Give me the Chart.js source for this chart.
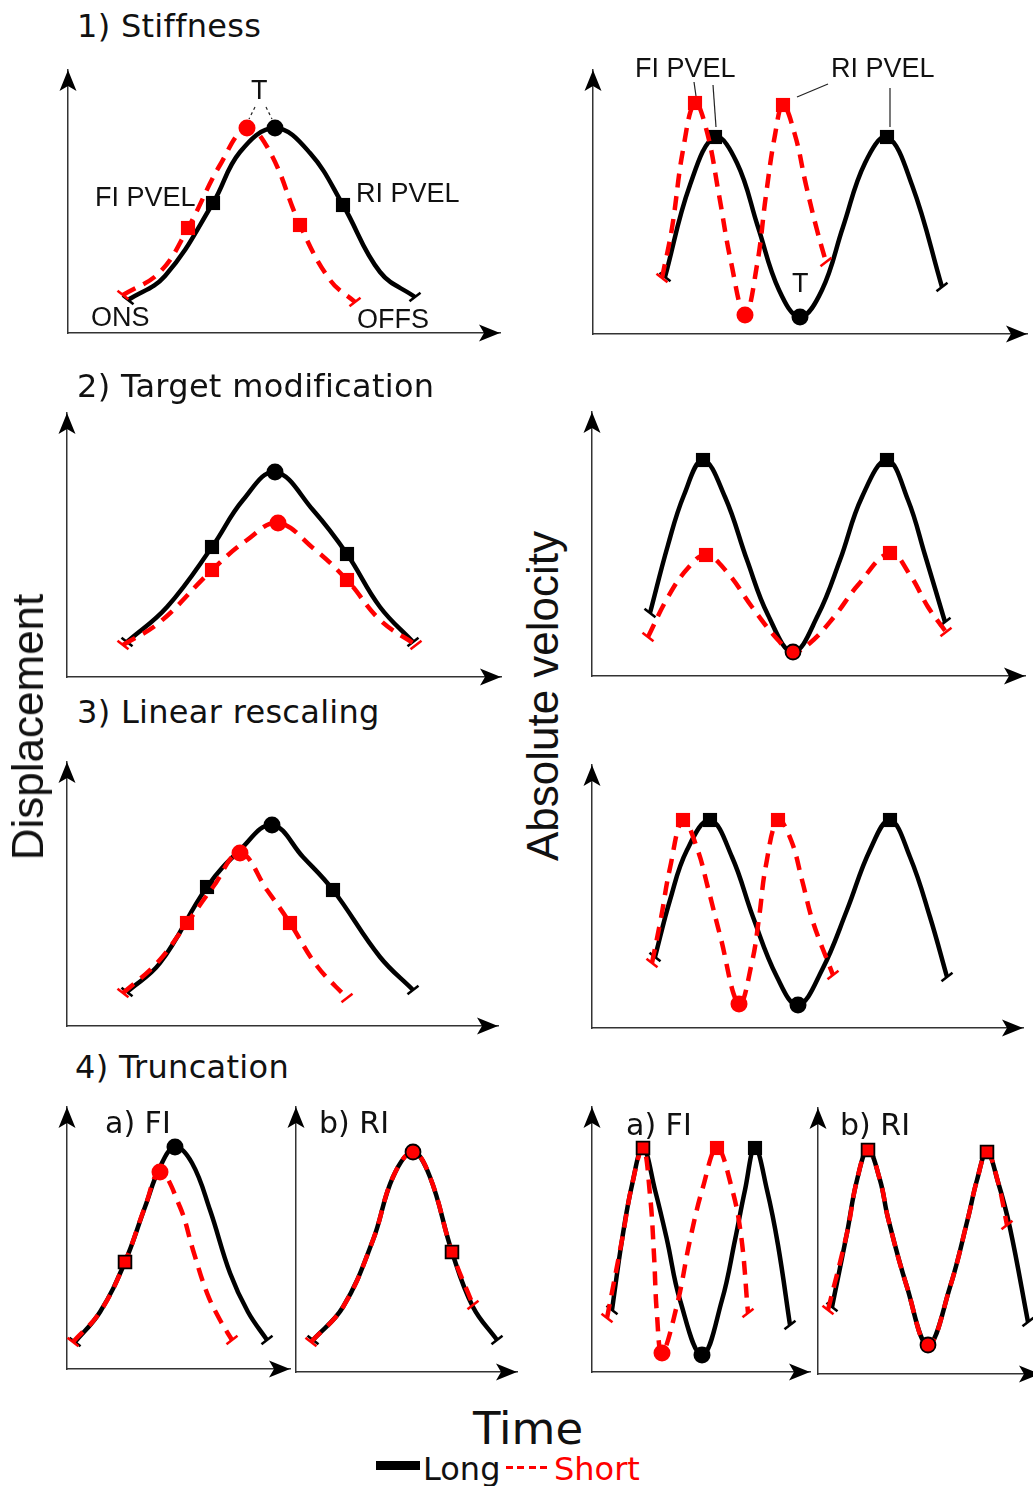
<!DOCTYPE html>
<html>
<head>
<meta charset="utf-8">
<title>Displacement and velocity schematics</title>
<script src="https://cdn.jsdelivr.net/npm/chart.js@4.4.1/dist/chart.umd.min.js"></script>
<style>
  html, body { margin: 0; padding: 0; background: #fff; }
  body { width: 1033px; height: 1486px; position: relative; overflow: hidden; }
  canvas { position: absolute; }
  .lbl { position: absolute; white-space: nowrap; line-height: 1; color: #111; z-index: 2; }
  .title { font-family: 'DejaVu Sans', sans-serif; font-size: 32px; letter-spacing: 0.3px; }
  .sub { font-family: 'DejaVu Sans', sans-serif; font-size: 30px; }
  .ann { font-family: 'Liberation Sans', Arial, sans-serif; font-size: 27px; }
  .ylab { font-family: 'Liberation Sans', Arial, sans-serif; font-size: 44px; transform: translate(-50%, -50%) rotate(-90deg); }
  .legend { font-family: 'DejaVu Sans', sans-serif; font-size: 32px; }
</style>
</head>
<body>

<div class="lbl title" style="left:77px; top:10px;">1) Stiffness</div>
<div class="lbl title" style="left:77px; top:370px;">2) Target modification</div>
<div class="lbl title" style="left:77px; top:696px;">3) Linear rescaling</div>
<div class="lbl title" style="left:75px; top:1051px;">4) Truncation</div>

<div class="lbl sub" style="left:105px; top:1108px;">a) FI</div>
<div class="lbl sub" style="left:319px; top:1108px;">b) RI</div>
<div class="lbl sub" style="left:626px; top:1110px;">a) FI</div>
<div class="lbl sub" style="left:840px; top:1110px;">b) RI</div>

<div class="lbl ann" style="left:251px; top:77px;">T</div>
<div class="lbl ann" style="left:95px; top:184px;">FI PVEL</div>
<div class="lbl ann" style="left:356px; top:180px;">RI PVEL</div>
<div class="lbl ann" style="left:91px; top:304px;">ONS</div>
<div class="lbl ann" style="left:357px; top:306px;">OFFS</div>
<div class="lbl ann" style="left:635px; top:55px;">FI PVEL</div>
<div class="lbl ann" style="left:831px; top:55px;">RI PVEL</div>
<div class="lbl ann" style="left:792px; top:270px;">T</div>

<div class="lbl ylab" style="left:28px; top:727px;">Displacement</div>
<div class="lbl ylab" style="left:543px; top:696px;">Absolute velocity</div>

<div class="lbl" style="left:473px; top:1406px; font-family:'DejaVu Sans',sans-serif; font-size:45px;">Time</div>
<div class="lbl" style="left:376px; top:1461px; width:44px; height:9px; background:#000;"></div>
<div class="lbl legend" style="left:423px; top:1453px;">Long</div>
<div class="lbl" style="left:506px; top:1466px; width:43px; height:3px; background:repeating-linear-gradient(90deg,#f00 0 7px,transparent 7px 11.5px);"></div>
<div class="lbl legend" style="left:554px; top:1453px; color:#f00;">Short</div>

<script>
// values: time / value offsets from each panel's origin

// 1) Stiffness
const stiffDispLongT = [60, 97, 145, 172, 207, 242, 275, 312, 347];
const stiffDispLongV = [33, 57, 130, 181, 205, 180, 128, 61, 36];
const stiffDispShortT = [55, 92, 120, 152, 179, 202, 232, 262, 287];
const stiffDispShortV = [38, 61, 105, 168, 205, 181, 108, 53, 31];
const stiffVelLongT = [72, 97, 122, 144, 165, 186, 207, 229, 250, 272, 294, 319, 349];
const stiffVelLongV = [57, 149, 197, 171, 107, 44, 17, 44, 107, 171, 197, 149, 47];
const stiffVelShortT = [69, 79, 90, 102, 114, 126, 138, 152, 164, 173, 182, 190, 202, 213, 224, 233];
const stiffVelShortV = [56, 106, 184, 231, 202, 139, 72, 19, 69, 139, 199, 229, 199, 149, 104, 72];

// 2) Target modification
const targetDispLongT = [60, 100, 145, 176, 208, 246, 280, 313, 346];
const targetDispLongV = [35, 70, 130, 177, 205, 167, 123, 70, 35];
const targetDispShortT = [56, 93, 145, 180, 211, 246, 280, 313, 349];
const targetDispShortV = [32, 55, 107, 137, 154, 129, 97, 57, 32];
const targetVelLongT = [58, 76, 92, 111, 133, 155, 176, 201, 226, 248, 270, 295, 316, 333, 353];
const targetVelLongV = [63, 131, 181, 216, 179, 116, 61, 24, 61, 116, 179, 216, 176, 121, 54];
const targetVelShortT = [56, 76, 96, 114, 135, 160, 186, 201, 218, 242, 266, 298, 318, 336, 354];
const targetVelShortV = [39, 79, 108, 121, 104, 69, 36, 24, 33, 59, 91, 123, 101, 69, 44];

// 3) Linear rescaling
const linDispLongT = [60, 93, 140, 173, 205, 236, 266, 313, 346];
const linDispLongV = [34, 63, 139, 176, 201, 169, 136, 69, 36];
const linDispShortT = [56, 90, 120, 146, 173, 200, 223, 250, 280];
const linDispShortV = [33, 63, 103, 139, 173, 136, 103, 60, 28];
const linVelLongT = [63, 78, 95, 118, 140, 161, 185, 206, 230, 255, 278, 298, 318, 338, 355];
const linVelLongV = [71, 128, 178, 208, 171, 111, 51, 23, 58, 118, 178, 208, 171, 111, 51];
const linVelShortT = [60, 69, 78, 91, 105, 116, 128, 147, 160, 167, 174, 186, 199, 210, 221, 241];
const linVelShortV = [65, 110, 160, 208, 180, 140, 93, 24, 66, 110, 163, 208, 188, 148, 106, 53];

// 4) Truncation
const truncFiDispLongT = [8, 33, 58, 78, 93, 108, 125, 143, 163, 181, 200];
const truncFiDispLongV = [27, 57, 107, 162, 202, 222, 206, 159, 96, 57, 29];
const truncFiDispShortT = [6, 33, 58, 78, 93, 113, 126, 140, 153, 165];
const truncFiDispShortV = [27, 57, 107, 162, 197, 162, 119, 76, 49, 29];
const truncRiDispLongT = [17, 47, 77, 97, 117, 134, 156, 177, 201];
const truncRiDispLongV = [32, 65, 132, 195, 220, 195, 120, 65, 32];
const truncRiDispShortT = [15, 47, 77, 97, 117, 134, 156, 177];
const truncRiDispShortV = [30, 65, 132, 195, 220, 195, 120, 67];
const truncFiVelLongT = [20, 30, 40, 51, 63, 75, 88, 110, 130, 143, 153, 163, 175, 186, 198];
const truncFiVelLongV = [62, 132, 187, 224, 182, 132, 72, 17, 72, 132, 182, 224, 182, 127, 47];
const truncFiVelShortT = [15, 30, 40, 51, 58, 62, 65, 70, 85, 98, 111, 125, 139, 149, 156];
const truncFiVelShortV = [54, 132, 187, 224, 177, 117, 57, 19, 67, 132, 185, 224, 187, 137, 59];
const truncRiVelLongT = [14, 29, 39, 50, 62, 70, 89, 110, 132, 150, 159, 169, 180, 192, 210];
const truncRiVelLongV = [67, 141, 194, 224, 194, 156, 87, 29, 87, 156, 194, 222, 192, 146, 52];
const truncRiVelShortT = [10, 29, 39, 50, 62, 70, 89, 110, 132, 150, 159, 169, 180, 189];
const truncRiVelShortV = [64, 141, 194, 224, 194, 156, 87, 29, 87, 156, 194, 222, 192, 149];

// leader lines from the labels in panel 1
const tLeaderLeftT = [187, 181], tLeaderLeftV = [226, 214];
const tLeaderRightT = [198, 204], tLeaderRightV = [226, 214];
const fiShortLeaderT = [101, 103], fiShortLeaderV = [252, 238];
const fiLongLeaderT = [120, 123], fiLongLeaderV = [249, 207];
const riShortLeaderT = [235, 204], riShortLeaderV = [250, 237];
const riLongLeaderT = [297, 297], riLongLeaderV = [246, 207];

const BLACK = '#000';
const RED = '#ff0000';
const PAD = 16;

// box: [y-axis x, arrow top, arrow right, x-axis y] in page pixels
const panels = [
  { box: [68, 70, 500, 333],
    long: [stiffDispLongT, stiffDispLongV], longMarks: { 2: 'sq', 4: 'dot', 6: 'sq' },
    short: [stiffDispShortT, stiffDispShortV], shortMarks: { 2: 'sq', 4: 'dot', 6: 'sq' },
    notes: [[tLeaderLeftT, tLeaderLeftV, [3, 3]], [tLeaderRightT, tLeaderRightV, [3, 3]]] },
  { box: [593, 70, 1027, 334],
    long: [stiffVelLongT, stiffVelLongV], longMarks: { 2: 'sq', 6: 'dot', 10: 'sq' },
    short: [stiffVelShortT, stiffVelShortV], shortMarks: { 3: 'sq', 7: 'dot', 11: 'sq' },
    notes: [[fiShortLeaderT, fiShortLeaderV], [fiLongLeaderT, fiLongLeaderV],
            [riShortLeaderT, riShortLeaderV], [riLongLeaderT, riLongLeaderV]] },
  { box: [67, 413, 501, 677],
    long: [targetDispLongT, targetDispLongV], longMarks: { 2: 'sq', 4: 'dot', 6: 'sq' },
    short: [targetDispShortT, targetDispShortV], shortMarks: { 2: 'sq', 4: 'dot', 6: 'sq' } },
  { box: [592, 412, 1025, 676],
    long: [targetVelLongT, targetVelLongV], longMarks: { 3: 'sq', 11: 'sq' },
    short: [targetVelShortT, targetVelShortV], shortMarks: { 3: 'sq', 7: 'dotO', 11: 'sq' } },
  { box: [67, 762, 498, 1026],
    long: [linDispLongT, linDispLongV], longMarks: { 2: 'sq', 4: 'dot', 6: 'sq' },
    short: [linDispShortT, linDispShortV], shortMarks: { 2: 'sq', 4: 'dot', 6: 'sq' } },
  { box: [592, 765, 1023, 1028],
    long: [linVelLongT, linVelLongV], longMarks: { 3: 'sq', 7: 'dot', 11: 'sq' },
    short: [linVelShortT, linVelShortV], shortMarks: { 3: 'sq', 7: 'dot', 11: 'sq' } },
  { box: [67, 1107, 290, 1369],
    long: [truncFiDispLongT, truncFiDispLongV], longMarks: { 5: 'dot' },
    short: [truncFiDispShortT, truncFiDispShortV], shortMarks: { 2: 'sqO', 4: 'dot' } },
  { box: [296, 1107, 517, 1372],
    long: [truncRiDispLongT, truncRiDispLongV], longMarks: {},
    short: [truncRiDispShortT, truncRiDispShortV], shortMarks: { 4: 'dotO', 6: 'sqO' } },
  { box: [592, 1107, 810, 1372],
    long: [truncFiVelLongT, truncFiVelLongV], longMarks: { 7: 'dot', 11: 'sq' },
    short: [truncFiVelShortT, truncFiVelShortV], shortMarks: { 3: 'sqO', 7: 'dot', 11: 'sq' } },
  { box: [818, 1108, 1040, 1374],
    long: [truncRiVelLongT, truncRiVelLongV], longMarks: {},
    short: [truncRiVelShortT, truncRiVelShortV], shortMarks: { 3: 'sqO', 7: 'dotO', 11: 'sqO' } },
];

function toPoints(t, v) {
  return t.map((x, i) => ({ x: x, y: v[i] }));
}

// per-point marker styling: end ticks, squares (PVEL) and circles (target)
function markerProps(n, marks, color) {
  const p = { style: [], radius: [], rotation: [], fill: [], edge: [], width: [] };
  for (let i = 0; i < n; i++) {
    const m = marks[i];
    if (i === 0 || i === n - 1) {
      p.style.push('line'); p.radius.push(7); p.rotation.push(i === 0 ? 38 : -38);
      p.fill.push(color); p.edge.push(color); p.width.push(2.5);
    } else if (m === 'sq' || m === 'sqO') {
      p.style.push('rect'); p.radius.push(m === 'sq' ? 10 : 9); p.rotation.push(0);
      p.fill.push(color); p.edge.push(m === 'sq' ? color : BLACK); p.width.push(m === 'sq' ? 0 : 1.8);
    } else if (m === 'dot' || m === 'dotO') {
      p.style.push('circle'); p.radius.push(m === 'dot' ? 8.5 : 7.5); p.rotation.push(0);
      p.fill.push(color); p.edge.push(m === 'dot' ? color : BLACK); p.width.push(m === 'dot' ? 0 : 1.8);
    } else {
      p.style.push('circle'); p.radius.push(0); p.rotation.push(0);
      p.fill.push(color); p.edge.push(color); p.width.push(0);
    }
  }
  return p;
}

function curveDataset(series, marks, color, dashed, order) {
  const pts = toPoints(series[0], series[1]);
  const m = markerProps(pts.length, marks, color);
  return {
    data: pts,
    borderColor: color,
    borderWidth: 4.5,
    borderDash: dashed ? [14, 9] : [],
    tension: 0.4,
    pointStyle: m.style,
    pointRadius: m.radius,
    pointRotation: m.rotation,
    pointBackgroundColor: m.fill,
    pointBorderColor: m.edge,
    pointBorderWidth: m.width,
    clip: false,
    order: order,
  };
}

function arrowHead(ctx, x, y, dx, dy) {
  const L = 21, W = 8.5, N = 5;
  const px = -dy, py = dx;
  ctx.beginPath();
  ctx.moveTo(x, y);
  ctx.lineTo(x - dx * L + px * W, y - dy * L + py * W);
  ctx.lineTo(x - dx * (L - N), y - dy * (L - N));
  ctx.lineTo(x - dx * L - px * W, y - dy * L - py * W);
  ctx.closePath();
  ctx.fill();
}

const axisArrows = {
  id: 'axisArrows',
  afterDraw(chart) {
    const a = chart.chartArea;
    const ctx = chart.ctx;
    ctx.save();
    ctx.fillStyle = '#000';
    arrowHead(ctx, a.left, a.top, 0, -1);
    arrowHead(ctx, a.right, a.bottom, 1, 0);
    ctx.restore();
  }
};

function axis(max) {
  return {
    type: 'linear',
    min: 0,
    max: max,
    ticks: { display: false },
    grid: { display: false, drawTicks: false },
    border: { display: true, color: '#333', width: 1.5 },
  };
}

panels.forEach(p => {
  const [x0, yTop, x1, y0] = p.box;
  const w = x1 - x0, h = y0 - yTop;
  const canvas = document.createElement('canvas');
  canvas.width = w + 2 * PAD;
  canvas.height = h + 2 * PAD;
  canvas.style.left = (x0 - PAD) + 'px';
  canvas.style.top = (yTop - PAD) + 'px';
  document.body.appendChild(canvas);

  const datasets = [
    curveDataset(p.short, p.shortMarks, RED, true, 0),
    curveDataset(p.long, p.longMarks, BLACK, false, 1),
  ];
  (p.notes || []).forEach(n => {
    datasets.push({
      data: toPoints(n[0], n[1]),
      borderColor: '#222',
      borderWidth: 1.2,
      borderDash: n[2] || [],
      pointRadius: 0,
      tension: 0,
      clip: false,
      order: 2,
    });
  });

  new Chart(canvas, {
    type: 'line',
    data: { datasets: datasets },
    options: {
      responsive: false,
      animation: false,
      devicePixelRatio: 1,
      events: [],
      layout: { padding: PAD },
      plugins: { legend: { display: false }, tooltip: { enabled: false } },
      scales: { x: axis(w), y: axis(h) },
    },
    plugins: [axisArrows],
  });
});
</script>
</body>
</html>
